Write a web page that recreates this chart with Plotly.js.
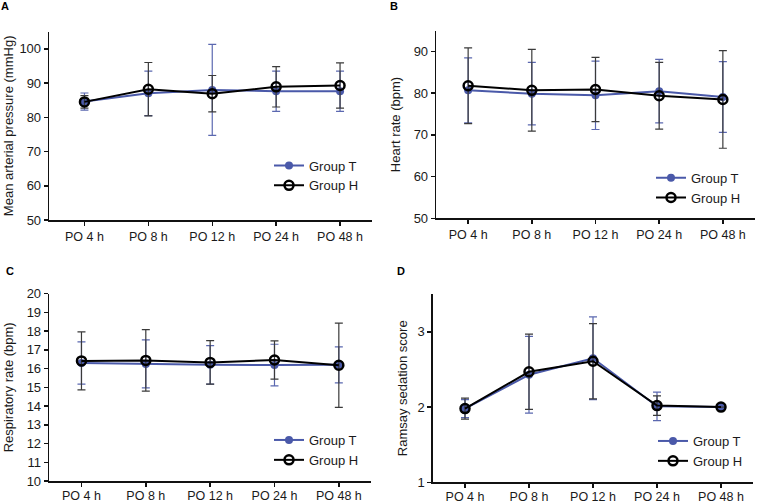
<!DOCTYPE html>
<html>
<head>
<meta charset="utf-8">
<script src="https://cdn.plot.ly/plotly-3.0.1.min.js"></script>
<style>html,body{margin:0;padding:0;background:#fff;}#chart{width:757px;height:503px;}</style>
</head>
<body>
<div id="chart"></div>
<script>
// ---- data ----
const timepoints = ["PO 4 h", "PO 8 h", "PO 12 h", "PO 24 h", "PO 48 h"];
const seriesNames = ["Group T", "Group H"];

// A: Mean arterial pressure (mmHg)
const mapT = [84.6, 87.0, 88.0, 87.6, 87.6];
const mapTsd = [2.5, 6.5, 13.3, 5.9, 5.9];
const mapH = [84.5, 88.2, 86.9, 88.9, 89.3];
const mapHsd = [1.8, 7.8, 5.3, 5.9, 6.6];

// B: Heart rate (bpm)
const hrT = [80.7, 79.9, 79.5, 80.5, 79.1];
const hrTsd = [7.8, 7.5, 8.2, 7.6, 8.5];
const hrH = [81.8, 80.7, 80.9, 79.4, 78.5];
const hrHsd = [9.1, 9.8, 7.7, 8.0, 11.7];

// C: Respiratory rate (bpm)
const rrT = [16.30, 16.25, 16.20, 16.19, 16.20];
const rrTsd = [1.13, 1.28, 1.03, 1.11, 0.96];
const rrH = [16.41, 16.44, 16.33, 16.46, 16.18];
const rrHsd = [1.55, 1.64, 1.16, 1.02, 2.25];

// D: Ramsay sedation score
const rssT = [1.98, 2.43, 2.65, 2.01, 2.00];
const rssTsd = [0.12, 0.51, 0.55, 0.19, 0];
const rssH = [1.98, 2.47, 2.61, 2.02, 2.00];
const rssHsd = [0.14, 0.50, 0.50, 0.13, 0];

const panelLabels = ["A", "B", "C", "D"];
const yTitles = ["Mean arterial pressure (mmHg)", "Heart rate (bpm)", "Respiratory rate (bpm)", "Ramsay sedation score"];

// ---- styling ----
const W = 757, H = 503;
const FONT = "Liberation Sans, Arial, sans-serif";
const blue = "#4a59a9";
const blueErr = "#5b68b0";
const black = "#000000";
const blackErr = "#3a3a3a";

const panels = [
  {T: mapT, Tsd: mapTsd, H: mapH, Hsd: mapHsd, px: [49.3, 372], py: [31.7, 220], xr: [-0.55, 4.5], yr: [50, 105], dt: 10, t0: 50, standoff: null, xlblOff: 0},
  {T: hrT, Tsd: hrTsd, H: hrH, Hsd: hrHsd, px: [436.3, 754.7], py: [30.7, 218.3], xr: [-0.5, 4.5], yr: [50, 95], dt: 10, t0: 50, standoff: null, xlblOff: 0},
  {T: rrT, Tsd: rrTsd, H: rrH, Hsd: rrHsd, px: [49.3, 371], py: [293.7, 481], xr: [-0.5, 4.5], yr: [10, 20], dt: 1, t0: 10, standoff: null, xlblOff: -2},
  {T: rssT, Tsd: rssTsd, H: rssH, Hsd: rssHsd, px: [433, 753], py: [294.3, 482.3], xr: [-0.5, 4.5], yr: [1, 3.5], dt: 1, t0: 1, standoff: 7, xlblOff: -2}
];
const legendPos = [[269, 150.5], [651, 162.7], [269, 425], [653, 426]];
const labelPos = [[5, 6], [394, 6], [9.5, 271], [401.5, 271]];

const traces = [];
const layout = {
  width: W, height: H,
  margin: {l: 0, r: 0, t: 0, b: 0},
  paper_bgcolor: "#fff", plot_bgcolor: "rgba(0,0,0,0)",
  font: {family: FONT, size: 13, color: "#1a1a1a"},
  annotations: []
};

panels.forEach((p, i) => {
  const n = i + 1;
  const xa = n === 1 ? "x" : "x" + n;
  const ya = n === 1 ? "y" : "y" + n;
  const lg = n === 1 ? "legend" : "legend" + n;
  traces.push({
    type: "scatter", mode: "lines+markers", name: seriesNames[0],
    x: timepoints, y: p.T, xaxis: xa, yaxis: ya, legend: lg,
    line: {color: blue, width: 2},
    marker: {color: blue, size: 8, symbol: "circle"},
    error_y: {type: "data", array: p.Tsd, visible: true, color: blueErr, thickness: 1.2, width: 4}
  });
  traces.push({
    type: "scatter", mode: "lines+markers", name: seriesNames[1],
    x: timepoints, y: p.H, xaxis: xa, yaxis: ya, legend: lg,
    line: {color: black, width: 2},
    marker: {color: black, size: 9, symbol: "circle-open", line: {color: black, width: 2.5}},
    error_y: {type: "data", array: p.Hsd, visible: true, color: blackErr, thickness: 1.2, width: 4}
  });
  const ticks = [];
  for (let v = p.t0; v <= p.yr[1] + 1e-9; v += p.dt) ticks.push(Math.round(v * 100) / 100);
  const ytitle = {text: yTitles[i], font: {size: 13, color: "#1a1a1a", family: FONT}};
  if (p.standoff !== null) ytitle.standoff = p.standoff;
  const xaxis = {
    domain: [p.px[0] / W, p.px[1] / W], anchor: ya,
    type: "category", range: p.xr, showgrid: false, zeroline: false,
    showline: true, linecolor: "#111", linewidth: 1.6,
    ticks: "outside", ticklen: 4, tickwidth: 1.5, tickcolor: "#111",
    tickfont: {size: 12.5, color: "#1a1a1a", family: FONT}
  };
  if (p.xlblOff) xaxis.ticklabelstandoff = p.xlblOff;
  layout["xaxis" + (n === 1 ? "" : n)] = xaxis;
  layout["yaxis" + (n === 1 ? "" : n)] = {
    domain: [1 - p.py[1] / H, 1 - p.py[0] / H], anchor: xa,
    range: p.yr, tickmode: "array", tickvals: ticks, showgrid: false, zeroline: false,
    showline: true, linecolor: "#111", linewidth: 1.6,
    ticks: "outside", ticklen: 4, tickwidth: 1.5, tickcolor: "#111",
    tickfont: {size: 13, color: "#1a1a1a", family: FONT},
    title: ytitle
  };
  layout[lg] = {
    x: legendPos[i][0] / W, y: 1 - legendPos[i][1] / H, xanchor: "left", yanchor: "top",
    bgcolor: "rgba(0,0,0,0)", font: {size: 13, color: "#1a1a1a", family: FONT},
    traceorder: "normal"
  };
  layout.annotations.push({
    text: "<b>" + panelLabels[i] + "</b>", xref: "paper", yref: "paper",
    x: labelPos[i][0] / W, y: 1 - labelPos[i][1] / H, xanchor: "center", yanchor: "middle",
    showarrow: false, font: {size: 11, color: "#000", family: FONT}
  });
});

Plotly.newPlot("chart", traces, layout, {staticPlot: true, displayModeBar: false});
</script>
</body>
</html>
